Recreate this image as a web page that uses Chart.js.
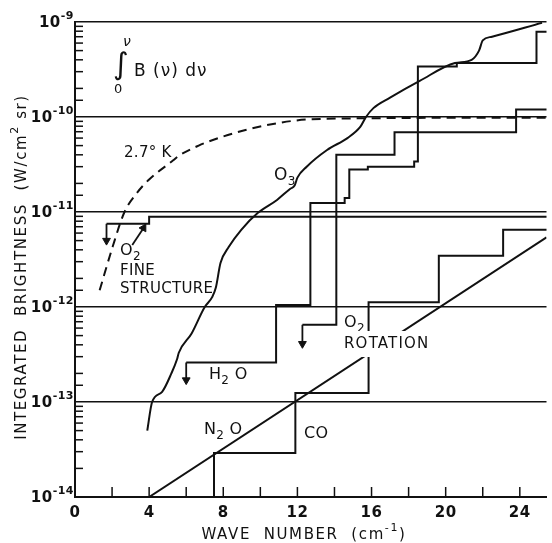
<!DOCTYPE html>
<html>
<head>
<meta charset="utf-8">
<script src="https://cdn.jsdelivr.net/npm/chart.js@4.4.1/dist/chart.umd.min.js"></script>
<style>
  html, body { margin: 0; padding: 0; background: #fff; }
  #wrap { width: 552px; height: 543px; }
</style>
</head>
<body>
<div id="wrap"><canvas id="chart" width="552" height="543"></canvas></div>
<script>
// axis ticks
const xTickLabels = [0, 4, 8, 12, 16, 20, 24];
const yDecades = [-14, -13, -12, -11, -10, -9];

// O3 (smooth curve)
const o3X = [3.9, 4.16, 4.7, 5.2, 5.5, 5.6, 6.3, 7.0, 7.4, 7.6, 7.85, 8.3, 8.97, 9.87, 10.9, 11.6, 11.85, 12.0, 12.5, 13.6, 14.7, 15.4, 15.7, 16.1, 17.0, 18.6, 20.5, 21.4, 21.8, 22.0, 22.5, 25.2];
const o3Y = [5e-14, 1e-13, 1.28e-13, 2e-13, 2.8e-13, 3.3e-13, 5.3e-13, 1e-12, 1.27e-12, 1.6e-12, 2.9e-12, 4.3e-12, 6.5e-12, 9.8e-12, 1.34e-11, 1.75e-11, 1.9e-11, 2.3e-11, 3e-11, 4.5e-11, 6e-11, 7.9e-11, 1e-10, 1.24e-10, 1.6e-10, 2.4e-10, 3.7e-10, 4e-10, 5e-10, 6.4e-10, 7e-10, 9.8e-10];

// 2.7 K blackbody integral (dashed)
const bbX = [1.33, 2.03, 2.67, 3.3, 4.0, 5.3, 5.6, 6.67, 7.4, 9.2, 10.9, 12.5, 16, 20, 25.6];
const bbY = [1.5e-12, 4.3e-12, 1e-11, 1.55e-11, 2.2e-11, 3.5e-11, 3.9e-11, 5e-11, 5.7e-11, 7.3e-11, 8.6e-11, 9.4e-11, 9.7e-11, 9.8e-11, 9.8e-11];

// step series: x where the level starts, and the level
const fineX = [1.7, 4.0, 25.6];
const fineY = [7.5e-12, 8.9e-12, 9.7e-12];

const h2oX = [6.0, 10.85, 12.7, 14.55, 14.8, 15.8, 18.3, 18.5, 20.6, 24.9, 25.6];
const h2oY = [2.6e-13, 1.05e-12, 1.24e-11, 1.4e-11, 2.8e-11, 3.0e-11, 3.4e-11, 3.4e-10, 3.7e-10, 7.9e-10, 7.9e-10];

const o2rotX = [12.27, 14.1, 17.24, 23.8, 25.6];
const o2rotY = [6.5e-13, 4e-11, 6.9e-11, 1.2e-10, 1.2e-10];

const coX = [7.5, 7.5, 11.89, 15.84, 19.63, 23.1, 25.6];
const coY = [1e-14, 2.9e-14, 1.24e-13, 1.12e-12, 3.46e-12, 6.5e-12, 6.5e-12];

// N2O (straight line)
const n2oX = [4.0, 25.44];
const n2oY = [1e-14, 5.4e-12];

// arrows: [x0, y0, x1, y1] head at the second point
const fineDownArrow = [1.7, 7.5e-12, 1.7, 5.0e-12];
const fineNoteArrow = [3.09, 4.5e-12, 3.7, 6.8e-12];
const h2oArrow = [6.0, 2.6e-13, 6.0, 1.7e-13];
const o2rotArrow = [12.27, 6.5e-13, 12.27, 4.1e-13];

const FONT = "'DejaVu Sans', 'Liberation Sans', sans-serif";

function pts(xs, ys) {
    return xs.map((x, i) => ({ x: x, y: ys[i] }));
}

function lineSet(xs, ys, extra) {
    return Object.assign({
        data: pts(xs, ys),
        borderColor: '#111',
        borderWidth: 2,
        pointRadius: 0,
        fill: false,
        tension: 0
    }, extra || {});
}

function arrowSet(a, rot) {
    return {
        data: [{ x: a[0], y: a[1] }, { x: a[2], y: a[3] }],
        borderColor: '#111',
        borderWidth: 1.8,
        pointRadius: [0, 4.5],
        pointStyle: 'triangle',
        pointRotation: rot,
        pointBackgroundColor: '#111',
        pointBorderColor: '#111',
        pointBorderWidth: 1,
        fill: false
    };
}

function isDecade(v) {
    const l = Math.log10(v);
    return Math.abs(l - Math.round(l)) < 1e-6;
}

// draw text made of pieces: [text, 'n' | 'sub' | 'sup']
function drawRich(ctx, parts, x, y, size, align, weight, spacing) {
    const fontFor = p => (weight || 'normal') + ' ' + (p[1] === 'n' ? size : Math.round(size * 0.72)) + 'px ' + FONT;
    ctx.letterSpacing = (spacing || 0) + 'px';
    let total = 0;
    parts.forEach(p => { ctx.font = fontFor(p); total += ctx.measureText(p[0]).width; });
    let cx = x;
    if (align === 'right') cx = x - total;
    if (align === 'center') cx = x - total / 2;
    ctx.textAlign = 'left';
    ctx.textBaseline = 'middle';
    parts.forEach(p => {
        ctx.font = fontFor(p);
        const dy = p[1] === 'sub' ? size * 0.35 : p[1] === 'sup' ? -size * 0.45 : 0;
        ctx.fillText(p[0], cx, y + dy);
        cx += ctx.measureText(p[0]).width;
    });
    ctx.letterSpacing = '0px';
    return total;
}

// text notes on the plot (pixel positions, left edge / middle)
const notes = [
    { x: 124, y: 153, parts: [['2.7° K', 'n']], size: 15 },
    { x: 274, y: 176, parts: [['O', 'n'], ['3', 'sub']], size: 17 },
    { x: 120, y: 251, parts: [['O', 'n'], ['2', 'sub']], size: 16 },
    { x: 120, y: 271, parts: [['FINE', 'n']], size: 15 },
    { x: 120, y: 289, parts: [['STRUCTURE', 'n']], size: 15 },
    { x: 209, y: 375, parts: [['H', 'n'], ['2', 'sub'], [' O', 'n']], size: 16 },
    { x: 344, y: 323, parts: [['O', 'n'], ['2', 'sub']], size: 16 },
    { x: 344, y: 344, parts: [['ROTATION', 'n']], size: 15, spacing: 1.2, knock: true },
    { x: 204, y: 430, parts: [['N', 'n'], ['2', 'sub'], [' O', 'n']], size: 16 },
    { x: 304, y: 434, parts: [['CO', 'n']], size: 16 }
];

const decorPlugin = {
    id: 'decor',
    beforeDatasetsDraw(chart) {
        const ctx = chart.ctx;
        const xs = chart.scales.x, ys = chart.scales.y;
        const area = chart.chartArea;
        ctx.save();
        ctx.strokeStyle = '#111';
        ctx.lineWidth = 1.5;
        // minor ticks inside the left axis
        ys.ticks.forEach(t => {
            if (isDecade(t.value)) return;
            const py = ys.getPixelForValue(t.value);
            ctx.beginPath();
            ctx.moveTo(area.left, py);
            ctx.lineTo(area.left + 8, py);
            ctx.stroke();
        });
        // ticks inside the bottom axis
        xs.ticks.forEach(t => {
            if (t.value === 0) return;
            const px = xs.getPixelForValue(t.value);
            ctx.beginPath();
            ctx.moveTo(px, area.bottom);
            ctx.lineTo(px, area.bottom - 10);
            ctx.stroke();
        });
        ctx.restore();
    },
    afterDraw(chart) {
        const ctx = chart.ctx;
        const xs = chart.scales.x, ys = chart.scales.y;
        const area = chart.chartArea;
        ctx.save();
        ctx.fillStyle = '#111';

        // tick labels
        yDecades.forEach(d => {
            const py = ys.getPixelForValue(Math.pow(10, d));
            drawRich(ctx, [['10', 'n'], ['-' + Math.abs(d), 'sup']], area.left - 1, py + 1, 15, 'right', 'bold', 0.5);
        });
        xTickLabels.forEach(v => {
            const px = xs.getPixelForValue(v);
            drawRich(ctx, [[String(v), 'n']], px, 513, 15, 'center', 'bold', 0.5);
        });

        // axis titles
        drawRich(ctx, [['WAVE  NUMBER  (cm', 'n'], ['-1', 'sup'], [')', 'n']], 304, 535, 15, 'center', 'normal', 1.6);
        ctx.save();
        ctx.translate(22, 267);
        ctx.rotate(-Math.PI / 2);
        drawRich(ctx, [['INTEGRATED  BRIGHTNESS  (W/cm', 'n'], ['2', 'sup'], [' sr)', 'n']], 0, 0, 15, 'center', 'normal', 1.6);
        ctx.restore();

        // integral expression
        ctx.font = '30px ' + FONT;
        ctx.textAlign = 'left';
        ctx.textBaseline = 'middle';
        ctx.fillText('\u222B', 113, 66);
        ctx.font = 'italic 14px ' + FONT;
        ctx.fillText('\u03BD', 123, 42);
        ctx.font = '13px ' + FONT;
        ctx.fillText('0', 114, 90);
        drawRich(ctx, [['B (\u03BD) d\u03BD', 'n']], 134, 72, 17, 'left', 'normal', 1);

        // notes
        notes.forEach(n => {
            if (n.knock) {
                ctx.font = n.size + 'px ' + FONT;
                ctx.letterSpacing = (n.spacing || 0) + 'px';
                const w = ctx.measureText(n.parts[0][0]).width;
                ctx.letterSpacing = '0px';
                ctx.fillStyle = '#fff';
                ctx.fillRect(n.x - 4, n.y - 13, w + 8, 26);
                ctx.fillStyle = '#111';
            }
            drawRich(ctx, n.parts, n.x, n.y, n.size, 'left', 'normal', n.spacing || 0.3);
        });
        ctx.restore();
    }
};

new Chart(document.getElementById('chart').getContext('2d'), {
    type: 'line',
    data: {
        datasets: [
            lineSet(bbX, bbY, { borderDash: [9, 6], cubicInterpolationMode: 'monotone' }),
            lineSet(o3X, o3Y, { cubicInterpolationMode: 'monotone' }),
            lineSet(fineX, fineY, { stepped: 'before' }),
            lineSet(h2oX, h2oY, { stepped: 'before' }),
            lineSet(o2rotX, o2rotY, { stepped: 'before' }),
            lineSet(coX, coY, { stepped: 'before' }),
            lineSet(n2oX, n2oY),
            arrowSet(fineDownArrow, 180),
            arrowSet(fineNoteArrow, 30),
            arrowSet(h2oArrow, 180),
            arrowSet(o2rotArrow, 180)
        ]
    },
    options: {
        responsive: false,
        animation: false,
        events: [],
        layout: { padding: { top: 22, left: 0, right: 0, bottom: 0 } },
        plugins: { legend: { display: false }, tooltip: { enabled: false } },
        scales: {
            x: {
                type: 'linear',
                min: 0,
                max: 25.44,
                afterFit: s => { s.height = 46; },
                ticks: { display: false, stepSize: 2, includeBounds: false },
                grid: { display: false },
                border: { display: true, color: '#111', width: 2 }
            },
            y: {
                type: 'logarithmic',
                min: 1e-14,
                max: 1e-9,
                afterFit: s => { s.width = 75; },
                ticks: { display: false },
                grid: {
                    color: c => (c.tick && isDecade(c.tick.value)) ? '#111' : 'rgba(0,0,0,0)',
                    lineWidth: 1.6,
                    drawTicks: false
                },
                border: { display: true, color: '#111', width: 2 }
            }
        }
    },
    plugins: [decorPlugin]
});
</script>
</body>
</html>
